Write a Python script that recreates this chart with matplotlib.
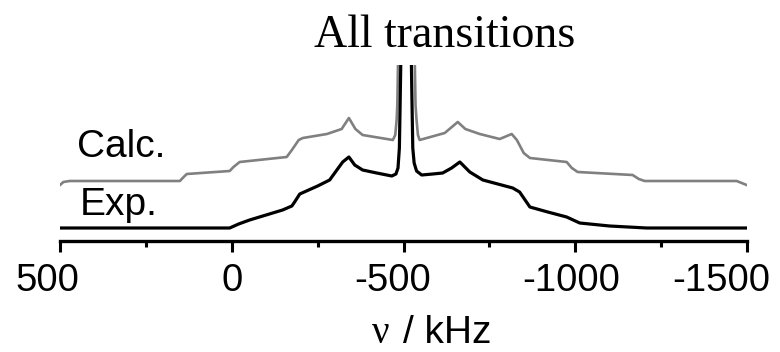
import matplotlib
matplotlib.use("Agg")
import matplotlib.pyplot as plt
import matplotlib.transforms as mtransforms
from matplotlib.ticker import MultipleLocator

plt.rcParams['axes.unicode_minus'] = False

# experimental spectrum (kHz, intensity)
freq_exp = [500, 6, -20, -52, -100, -148, -175, -183, -198, -250, -285, -306, -323, -341,
            -358, -381, -422, -466, -478, -484, -488, -490, -492, -494,
            -521, -523, -525, -527, -531, -538, -553, -585, -614, -640, -664,
            -693, -731, -818, -838, -868, -920, -975, -1013, -1100, -1208, -1500]
int_exp = [0.0, 0.0, 0.04, 0.08, 0.13, 0.18, 0.22, 0.26, 0.34, 0.42, 0.48, 0.58, 0.66, 0.71,
           0.63, 0.58, 0.55, 0.52, 0.54, 0.60, 0.80, 1.20, 1.63, 2.50,
           2.50, 1.63, 1.20, 0.80, 0.65, 0.57, 0.53, 0.54, 0.55, 0.60, 0.66,
           0.56, 0.48, 0.40, 0.36, 0.21, 0.16, 0.11, 0.05, 0.02, 0.0, 0.0]

# calculated spectrum (kHz, intensity), drawn with an offset
freq_calc = [500, 490, 472, 151, 140, 131, 6, -5, -23, -160, -175, -195, -207, -277,
             -320, -341, -360, -381, -469, -476, -480, -482, -484, -487,
             -530, -533, -535, -538, -542, -547, -620, -658, -680, -722, -780,
             -815, -830, -850, -868, -975, -990, -1007, -1167, -1185, -1202, -1470, -1499]
int_calc = [0.0, 0.03, 0.04, 0.04, 0.08, 0.11, 0.14, 0.18, 0.23, 0.28, 0.35, 0.45, 0.47, 0.51,
            0.56, 0.67, 0.56, 0.50, 0.45, 0.50, 0.65, 0.80, 1.20, 2.50,
            2.50, 1.20, 0.80, 0.65, 0.50, 0.45, 0.52, 0.63, 0.56, 0.51, 0.46,
            0.51, 0.45, 0.32, 0.27, 0.23, 0.17, 0.13, 0.10, 0.06, 0.04, 0.04, 0.0]
calc_offset = 0.43

major_ticks = [500, 0, -500, -1000, -1500]
tick_labels = ['500', '0', '-500', '-1000', '-1500']
label_shift_px = [-13, 0, -11, -4, -26]

fig = plt.figure(figsize=(7.8, 3.52), dpi=100)
ax = fig.add_axes([60 / 780, 111 / 352, 687 / 780, 176 / 352])

ax.plot(freq_calc, [v + calc_offset for v in int_calc], color='#808080', lw=1.9,
        solid_joinstyle='round')
ax.plot(freq_exp, int_exp, color='black', lw=2.3, solid_joinstyle='round')

ax.set_xlim(500, -1500)
ax.set_ylim(-0.13, 1.63)

for s in ['left', 'right', 'top']:
    ax.spines[s].set_visible(False)
ax.spines['bottom'].set_linewidth(2.4)
ax.set_yticks([])

ax.set_xticks(major_ticks)
ax.set_xticklabels(tick_labels, fontsize=27.5, family='Liberation Sans')
ax.xaxis.set_minor_locator(MultipleLocator(250))
ax.tick_params(axis='x', which='major', length=8, width=2.2, pad=8)
ax.tick_params(axis='x', which='minor', length=4, width=2.2)

for lab, dx in zip(ax.get_xticklabels(), label_shift_px):
    lab.set_transform(lab.get_transform() +
                      mtransforms.ScaledTranslation(dx / 100, 0, fig.dpi_scale_trans))

sans = 'Liberation Sans'
fig.text(77 / 780, 1 - 157 / 352, 'Calc.', fontsize=28, family=sans, va='baseline')
fig.text(80 / 780, 1 - 215 / 352, 'Exp.', fontsize=28, family=sans, va='baseline')
fig.text(445 / 780, 1 - 47 / 352, 'All transitions', fontsize=33,
         family='Liberation Serif', ha='center', va='baseline')
fig.text(372 / 780, 1 - 343 / 352, 'ν', fontsize=28, family='Liberation Serif', va='baseline')
fig.text(403 / 780, 1 - 343 / 352, '/ kHz', fontsize=28, family=sans, va='baseline')

fig.savefig('out.png', dpi=100)
